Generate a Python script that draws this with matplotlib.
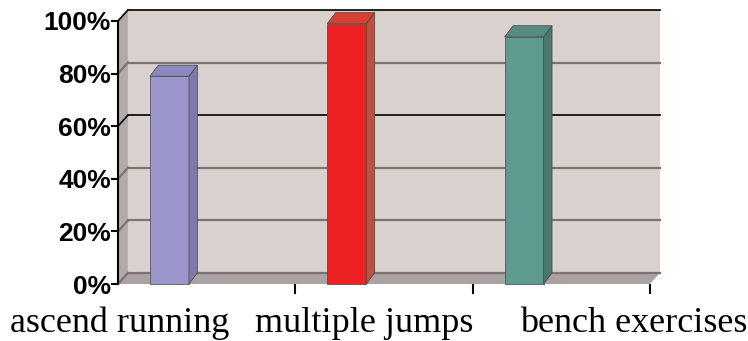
import matplotlib
matplotlib.use("Agg")
import matplotlib.pyplot as plt
from matplotlib.patches import Polygon
from matplotlib.ticker import FixedLocator, NullFormatter

categories = ["ascend running", "multiple jumps", "bench exercises"]
values = [79, 99, 94]
yticks = [0, 20, 40, 60, 80, 100]
ytick_labels = ["0%", "20%", "40%", "60%", "80%", "100%"]
label_pos = [0.01, 1.39, 2.91]

front_colors = ["#9b97cc", "#ee2222", "#5f9a91"]
side_colors = ["#7e79a8", "#c0503e", "#4b776f"]
top_colors = ["#8c87bd", "#d94030", "#578c83"]

fig = plt.figure(figsize=(7.48, 3.41), dpi=100)
ax = fig.add_axes([118/748, 1-284/341, 532/748, 263/341])
ax.set_xlim(0, 3)
ax.set_ylim(0, 100)
ax.patch.set_visible(False)

# depth offset in data units (3D look)
dx, dy = 0.056, 4.2
n = len(categories)
wall = "#d9d1ce"
side_wall = "#b3abaa"
floor = "#aaa3a1"

kw = dict(clip_on=False)
ax.add_patch(Polygon([(dx, dy), (n+dx, dy), (n+dx, 100+dy), (dx, 100+dy)],
                     closed=True, fc=wall, ec="none", zorder=0, **kw))
ax.add_patch(Polygon([(0, 0), (dx, dy), (dx, 100+dy), (0, 100)],
                     closed=True, fc=side_wall, ec="none", zorder=0.5, **kw))
ax.add_patch(Polygon([(0, 0), (n, 0), (n+dx, dy), (dx, dy)],
                     closed=True, fc=floor, ec="none", zorder=0.5, **kw))

for t in yticks:
    col = "#111111" if t in (60, 100) else "#7a7474"
    lw = 1.3 if t in (60, 100) else 1.6
    ax.plot([dx, n+dx], [t+dy, t+dy], color=col, lw=lw, zorder=1, **kw)
    ax.plot([0, dx], [t, t+dy], color=col, lw=lw, zorder=1, **kw)

w = 0.22
off = 0.18
for i, v in enumerate(values):
    x0 = i + off
    x1 = x0 + w
    ax.add_patch(Polygon([(x0, 0), (x1, 0), (x1, v), (x0, v)], closed=True,
                         fc=front_colors[i], ec="#444444", lw=0.5, zorder=3, **kw))
    ax.add_patch(Polygon([(x1, 0), (x1+dx*0.85, dy), (x1+dx*0.85, v+dy), (x1, v)], closed=True,
                         fc=side_colors[i], ec="#444444", lw=0.5, zorder=3, **kw))
    ax.add_patch(Polygon([(x0, v), (x1, v), (x1+dx*0.85, v+dy), (x0+dx*0.85, v+dy)], closed=True,
                         fc=top_colors[i], ec="#444444", lw=0.5, zorder=3, **kw))

for s in ["top", "right", "bottom"]:
    ax.spines[s].set_visible(False)
ax.spines["left"].set_linewidth(1.5)
ax.spines["left"].set_color("black")
ax.spines["left"].set_zorder(5)

ax.set_yticks(yticks)
ax.set_yticklabels(ytick_labels, fontfamily="Liberation Sans", fontweight="bold", fontsize=19)
ax.tick_params(axis="y", length=5, width=1.5, pad=0, direction="out")

ax.xaxis.set_major_locator(FixedLocator([1, 2, 3]))
ax.xaxis.set_major_formatter(NullFormatter())
ax.tick_params(axis="x", length=7, width=1.5, direction="out")
for p, lab in zip(label_pos, categories):
    ax.text(p, -0.183, lab, transform=ax.get_xaxis_transform(), ha="center", va="baseline",
            fontfamily="Liberation Serif", fontsize=26)

fig.savefig("out.png", dpi=100, facecolor="white")
